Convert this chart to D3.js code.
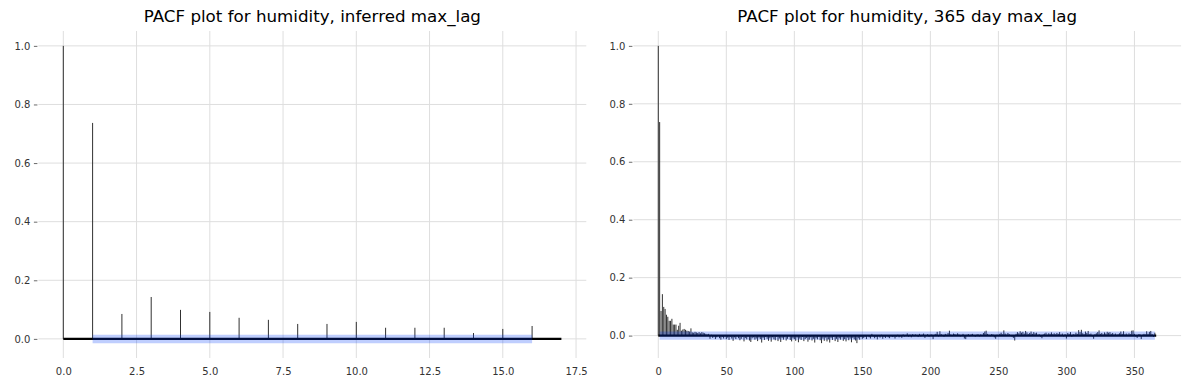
<!DOCTYPE html>
<html>
<head>
<meta charset="utf-8">
<script src="https://cdn.jsdelivr.net/npm/d3@7"></script>
<style>
  body { margin: 0; background: #fff; }
  svg { display: block; font-family: 'DejaVu Sans', sans-serif; }
</style>
</head>
<body>
<svg id="chart" width="1189" height="390"></svg>
<script>
// pacf values, lags 0..16 (inferred max_lag)
const pacfShort = [1.0, 0.737, 0.085, 0.143, 0.099, 0.092, 0.072, 0.065, 0.051, 0.051,
  0.058, 0.038, 0.038, 0.038, 0.020, 0.034, 0.044];

// pacf values, lags 17..365
const pacfLong = [
  0.017, 0.021, 0.023, 0.020, 0.017, 0.016, 0.014, 0.025, 0.011, 0.010, 0.013, 0.011, 0.009, 0.012, 0.008, 0.012, 0.010, 0.008, 0.006,
  0.004, 0.006, -0.011, 0.003, -0.008, -0.004, -0.012, -0.006, 0.002, -0.009, -0.014, -0.005, -0.010, -0.003, -0.012,
  -0.007, -0.015, -0.004, -0.010, -0.018, -0.006, -0.012, -0.003, -0.009, -0.016, -0.011, -0.005, -0.020, -0.008, -0.013, -0.004, -0.017, -0.022, -0.009, -0.006,
  -0.014, -0.010, -0.019, -0.007, -0.012, -0.024, -0.008, -0.015, -0.005, -0.011, -0.018, -0.009, -0.021, -0.006, -0.013, -0.016, -0.004, -0.019, -0.010, -0.022,
  -0.008, -0.014, -0.006, -0.017, -0.011, -0.003, -0.015, -0.020, -0.009, -0.012,
  -0.018, -0.007, -0.023, -0.010, -0.015, -0.005, -0.019, -0.012, -0.008, -0.021, -0.014, -0.006, -0.017, -0.011, -0.024, -0.009, -0.013, -0.004, -0.016, -0.026,
  -0.010, -0.018, -0.007, -0.020, -0.013, -0.024, -0.008, -0.015, -0.005, -0.019, -0.011, -0.022, -0.009, -0.014, -0.006, -0.018, -0.012, -0.020, -0.007, -0.016,
  -0.010, -0.023, -0.008, -0.013, -0.017, -0.026, -0.009, -0.014, -0.005, -0.011,
  -0.008, -0.004, -0.012, 0.002, -0.006, -0.010, 0.006, -0.003, -0.009, -0.005, -0.013, -0.002, -0.007, 0.003, -0.011, -0.004, -0.008, -0.002, -0.006, -0.009,
  0.002, -0.005, -0.003, -0.010, -0.004, 0.003, -0.006, -0.002, -0.008, 0.004, -0.003, 0.002, 0.008, -0.004, 0.003, -0.006, 0.005, -0.002, 0.004, 0.002,
  -0.005, 0.006, -0.003, 0.003, 0.007, -0.008, 0.002, 0.005, -0.004, 0.003,
  0.004, -0.012, 0.003, 0.006, 0.013, -0.003, 0.015, 0.005, 0.002, -0.004, 0.006, 0.003, 0.009, 0.017, 0.004, -0.002, 0.007, 0.005, 0.003, 0.008,
  0.004, -0.003, 0.002, 0.006, -0.010, -0.012, 0.003, 0.005, -0.002, 0.004, 0.006, 0.002, -0.004, 0.003, 0.005, -0.003, 0.004, 0.002, 0.009, 0.014,
  0.017, 0.006, 0.003, -0.002, 0.005, 0.004, -0.006, -0.011, 0.003, 0.002,
  0.006, 0.010, 0.004, 0.018, 0.007, 0.003, 0.009, 0.005, 0.002, -0.004, -0.008, -0.017, 0.006, 0.012, 0.008, 0.015, 0.010, 0.013, 0.007, 0.016,
  0.011, 0.005, 0.009, 0.014, 0.006, 0.012, 0.008, 0.010, 0.003, 0.005, -0.004, -0.009, 0.004, 0.007, 0.010, 0.003, 0.008, 0.006, 0.011, 0.005,
  0.008, 0.004, 0.009, 0.006, 0.012, 0.003, 0.007, -0.003, 0.005, -0.010,
  0.009, 0.006, 0.012, -0.004, 0.005, 0.003, 0.010, 0.006, 0.019, 0.012, 0.020, 0.008, 0.005, 0.014, 0.009, 0.016, 0.004, 0.007, -0.003, -0.011,
  0.005, 0.008, 0.012, 0.018, 0.006, 0.009, 0.004, 0.011, 0.007, 0.013, 0.010, 0.012, 0.006, 0.009, 0.004, 0.007, 0.003, 0.005, 0.008, 0.014,
  0.006, 0.015, 0.004, 0.007, 0.003, 0.008, 0.005, 0.017, 0.018, 0.006,
  -0.003, -0.008, 0.004, 0.005, -0.012, 0.003, 0.006, 0.004, 0.015, 0.006, 0.013, 0.016, 0.005, -0.004, 0.010
];

const confBand = 0.0145;
const titles = ['PACF plot for humidity, inferred max_lag', 'PACF plot for humidity, 365 day max_lag'];
const xTicksShort = [0, 2.5, 5, 7.5, 10, 12.5, 15, 17.5];
const xTicksLong = [0, 50, 100, 150, 200, 250, 300, 350];
const yTicks = [0, 0.2, 0.4, 0.6, 0.8, 1.0];

const svg = d3.select('#chart');

function drawPanel(values, xTicks, xFmt, title, left, right) {
  const top = 31, bottom = 358;
  const maxLag = values.length - 1;
  const span = maxLag + 1;

  // matplotlib style 5% margins
  let x = d3.scaleLinear()
    .domain([-0.05 * span, span + 0.05 * span])
    .range([left, right]);
  let lo = Math.min(d3.min(values), -confBand);
  let hi = d3.max(values);
  let r = hi - lo;
  let y = d3.scaleLinear()
    .domain([lo - 0.05 * r, hi + 0.05 * r])
    .range([bottom, top]);

  let g = svg.append('g');

  g.append('g').selectAll('line')
    .data(yTicks)
    .enter()
    .append('line')
    .attr('x1', left).attr('x2', right)
    .attr('y1', d => y(d)).attr('y2', d => y(d))
    .attr('stroke', '#dedede').attr('stroke-width', 1);

  g.append('g').selectAll('line')
    .data(xTicks)
    .enter()
    .append('line')
    .attr('x1', d => x(d)).attr('x2', d => x(d))
    .attr('y1', top).attr('y2', bottom)
    .attr('stroke', '#dedede').attr('stroke-width', 1);

  // stems
  g.append('g').selectAll('line')
    .data(values)
    .enter()
    .append('line')
    .attr('x1', (d, i) => x(i)).attr('x2', (d, i) => x(i))
    .attr('y1', y(0)).attr('y2', d => y(d))
    .attr('stroke', '#1a1a1a')
    .attr('stroke-width', 0.9);

  g.append('line')
    .attr('x1', x(0)).attr('x2', x(maxLag + 1))
    .attr('y1', y(0)).attr('y2', y(0))
    .attr('stroke', '#000').attr('stroke-width', 2.2);

  let band = d3.area()
    .x(d => x(d))
    .y0(y(-confBand))
    .y1(y(confBand));
  g.append('path')
    .datum(d3.range(1, maxLag + 1))
    .attr('d', band)
    .attr('fill', '#003DFD')
    .attr('fill-opacity', 0.25);

  // y axis: tick marks + labels, no spine
  let yAxis = d3.axisLeft(y)
    .tickValues(yTicks)
    .tickFormat(d3.format('.1f'))
    .tickSize(3.5)
    .tickPadding(3.5);
  let ya = g.append('g')
    .attr('transform', 'translate(' + (left - 1) + ',0)')
    .call(yAxis);
  ya.select('.domain').remove();
  ya.selectAll('line').attr('stroke', '#444').attr('stroke-width', 0.8);
  ya.selectAll('text').attr('fill', '#333').style('font-size', '10px').style('font-family', 'DejaVu Sans');

  let xAxis = d3.axisBottom(x)
    .tickValues(xTicks)
    .tickFormat(xFmt)
    .tickSize(0)
    .tickPadding(10);
  let xa = g.append('g')
    .attr('transform', 'translate(0,' + bottom + ')')
    .call(xAxis);
  xa.select('.domain').remove();
  xa.selectAll('text').attr('fill', '#333').style('font-size', '10px').style('font-family', 'DejaVu Sans');

  g.append('text')
    .attr('x', (left + right) / 2)
    .attr('y', 22)
    .attr('text-anchor', 'middle')
    .style('font-size', '16.7px')
    .attr('fill', '#000')
    .text(title);
}

drawPanel(pacfShort, xTicksShort, d3.format('.1f'), titles[0], 38.4, 586.3);
drawPanel(pacfShort.concat(pacfLong), xTicksLong, d3.format('d'), titles[1], 633.4, 1181.1);
</script>
</body>
</html>
